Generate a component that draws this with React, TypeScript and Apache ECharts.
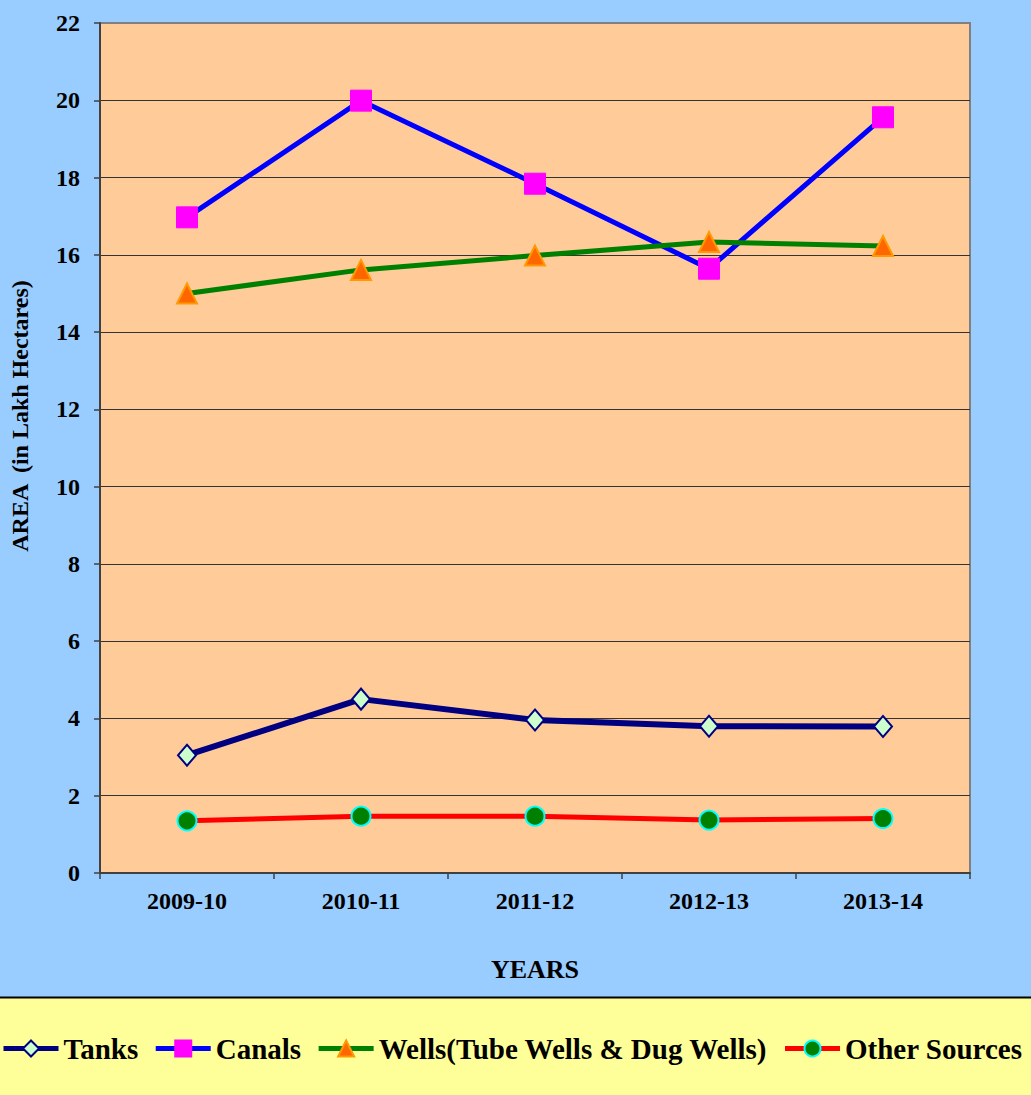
import React, { useEffect, useRef } from "react";
import * as echarts from "echarts";

const categories = ["2009-10", "2010-11", "2011-12", "2012-13", "2013-14"];
const tanks = [3.05, 4.5, 3.96, 3.8, 3.79];
const canals = [16.97, 19.99, 17.84, 15.64, 19.56];
const wells = [15.0, 15.61, 15.98, 16.33, 16.23];
const otherSources = [1.35, 1.47, 1.47, 1.37, 1.41];

const FONT = "'Liberation Serif', 'Times New Roman', serif";

export default function App() {
  const ref = useRef<HTMLDivElement>(null);
  useEffect(() => {
    if (!ref.current) return;
    const chart = echarts.init(ref.current, undefined, { renderer: "svg" });
    chart.setOption({
      animation: false,
      backgroundColor: "#99CCFF",
      grid: {
        left: 100,
        top: 23,
        right: 61,
        bottom: 222,
        show: true,
        backgroundColor: "#FFCC99",
        borderColor: "#808080",
        borderWidth: 2,
      },
      graphic: [
        {
          type: "rect",
          shape: { x: 0, y: 997, width: 1031, height: 98 },
          style: { fill: "#FFFF99" },
        },
        {
          type: "line",
          shape: { x1: 0, y1: 997.5, x2: 1031, y2: 997.5 },
          style: { stroke: "#000000", lineWidth: 2 },
        },
        {
          type: "text",
          x: 20,
          y: 416,
          rotation: Math.PI / 2,
          style: {
            text: "AREA  (in Lakh Hectares)",
            font: `bold 24px ${FONT}`,
            fill: "#000",
            textAlign: "center",
            textVerticalAlign: "middle",
          },
        },
      ],
      legend: {
        left: 1,
        top: 1034,
        padding: 0,
        itemWidth: 55,
        itemHeight: 20,
        itemGap: 15,
        lineStyle: { width: 5 },
        textStyle: { fontFamily: FONT, fontWeight: "bold", fontSize: 29, color: "#000" },
        data: ["Tanks", "Canals", "Wells(Tube Wells & Dug Wells)", "Other Sources"],
      },
      xAxis: {
        type: "category",
        data: categories,
        boundaryGap: true,
        name: "YEARS",
        nameLocation: "middle",
        nameGap: 83,
        nameTextStyle: { fontFamily: FONT, fontWeight: "bold", fontSize: 26, color: "#000" },
        axisLine: { show: true, lineStyle: { color: "#404040", width: 2 } },
        axisTick: { show: true, length: 6, lineStyle: { color: "#404040", width: 1.5 } },
        axisLabel: { margin: 16, fontFamily: FONT, fontWeight: "bold", fontSize: 24, color: "#000" },
        splitLine: { show: false },
      },
      yAxis: {
        type: "value",
        min: 0,
        max: 22,
        interval: 2,
        axisLine: { show: true, lineStyle: { color: "#404040", width: 2 } },
        axisTick: { show: true, length: 6, lineStyle: { color: "#404040", width: 1.5 } },
        axisLabel: { margin: 20, fontFamily: FONT, fontWeight: "bold", fontSize: 24, color: "#000" },
        splitLine: { show: true, showMinLine: false, showMaxLine: false, lineStyle: { color: "#333333", width: 1.2 } },
      },
      series: [
        {
          name: "Tanks",
          type: "line",
          data: tanks,
          symbol: "diamond",
          symbolSize: [18, 21],
          lineStyle: { color: "#000080", width: 6 },
          itemStyle: { color: "#CCFFCC", borderColor: "#000080", borderWidth: 2 },
        },
        {
          name: "Canals",
          type: "line",
          data: canals,
          symbol: "rect",
          symbolSize: 21,
          lineStyle: { color: "#0000FF", width: 5 },
          itemStyle: { color: "#FF00FF", borderColor: "#FF00FF", borderWidth: 1 },
        },
        {
          name: "Wells(Tube Wells & Dug Wells)",
          type: "line",
          data: wells,
          symbol: "triangle",
          symbolSize: 20,
          lineStyle: { color: "#008000", width: 5 },
          itemStyle: { color: "#FF6600", borderColor: "#FF9900", borderWidth: 2 },
        },
        {
          name: "Other Sources",
          type: "line",
          data: otherSources,
          symbol: "circle",
          symbolSize: 19,
          lineStyle: { color: "#FF0000", width: 5 },
          itemStyle: { color: "#008000", borderColor: "#00FFFF", borderWidth: 2 },
        },
      ],
    });
    return () => chart.dispose();
  }, []);
  return (
    <div
      ref={ref}
      style={{ position: "absolute", left: 0, top: 0, width: 1031, height: 1095 }}
    />
  );
}
